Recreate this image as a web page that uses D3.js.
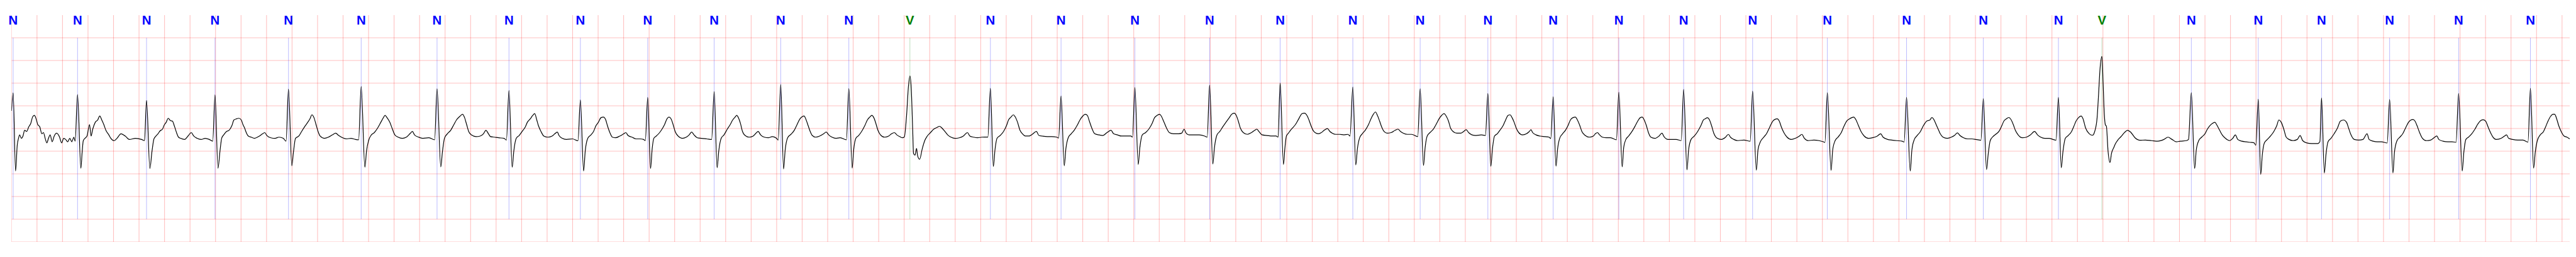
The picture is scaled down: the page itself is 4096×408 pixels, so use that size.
<!DOCTYPE html>
<html><head><meta charset="utf-8">
<script src="https://cdn.jsdelivr.net/npm/d3@7"></script>
<style>html,body{margin:0;padding:0;background:#fff;overflow:hidden}svg{display:block}</style>
</head><body>
<svg id="chart"></svg>
<script>
// Beat annotations (time in ms from strip start)
const beatMs = [13,518,1059,1596,2172,2742,3337,3901,4461,4989,5510,6032,6566,7045,7676,8230,8809,9395,9948,10518,11046,11577,12089,12604,13112,13653,14239,14860,15462,16051,16392,17093,17618,18114,18648,19189,19752];
const beatLabels = ["N","N","N","N","N","N","N","N","N","N","N","N","N","V","N","N","N","N","N","N","N","N","N","N","N","N","N","N","N","N","V","N","N","N","N","N","N"];
// ECG trace: [time ms, amplitude mV]
const ecg = [
[0,0.889],[13,1.285],[32,-0.437],[45,0.131],[55,0.283],[64,0.359],[77,0.283],[90,0.333],[103,0.460],[119,0.434],[135,0.535],[151,0.611],[167,0.763],[180,0.788],[193,0.712],[206,0.586],[222,0.535],[238,0.384],[251,0.409],[264,0.283],[277,0.182],[290,0.283],[303,0.359],[319,0.207],[335,0.333],[354,0.396],[377,0.308],[393,0.182],[409,0.283],[425,0.258],[441,0.207],[457,0.283],[473,0.207],[489,0.308],[499,0.220],
[518,1.247],[544,-0.379],[554,-0.020],[563,0.232],[576,0.283],[592,0.333],[612,0.586],[624,0.333],[637,0.485],[657,0.636],[676,0.687],[692,0.775],[708,0.687],[724,0.586],[740,0.460],[763,0.359],[779,0.283],[805,0.232],[827,0.283],[859,0.384],[892,0.333],[924,0.258],[972,0.283],[1020,0.258],[1043,0.232],
[1059,1.121],[1085,-0.386],[1101,-0.020],[1117,0.270],[1133,0.333],[1149,0.384],[1165,0.447],[1184,0.485],[1197,0.573],[1213,0.636],[1229,0.725],[1246,0.674],[1262,0.662],[1278,0.548],[1294,0.409],[1310,0.308],[1326,0.283],[1358,0.258],[1384,0.333],[1410,0.409],[1429,0.333],[1455,0.283],[1487,0.258],[1519,0.283],[1551,0.258],[1578,0.220],
[1596,1.242],[1619,-0.379],[1635,0.005],[1648,0.283],[1664,0.359],[1686,0.434],[1706,0.460],[1728,0.561],[1744,0.687],[1764,0.712],[1783,0.725],[1802,0.687],[1815,0.586],[1828,0.510],[1841,0.409],[1857,0.333],[1880,0.308],[1905,0.283],[1937,0.321],[1970,0.384],[1986,0.409],[2002,0.346],[2034,0.295],[2066,0.283],[2098,0.308],[2131,0.283],[2153,0.220],
[2172,1.369],[2198,-0.323],[2211,-0.020],[2227,0.283],[2253,0.333],[2275,0.434],[2298,0.535],[2317,0.611],[2340,0.712],[2356,0.801],[2372,0.737],[2388,0.586],[2404,0.434],[2420,0.333],[2452,0.283],[2485,0.308],[2517,0.359],[2542,0.396],[2565,0.346],[2597,0.295],[2629,0.270],[2662,0.283],[2697,0.258],[2722,0.250],
[2742,1.424],[2771,-0.356],[2784,0.005],[2800,0.232],[2822,0.359],[2845,0.409],[2871,0.510],[2896,0.636],[2916,0.737],[2929,0.788],[2945,0.737],[2967,0.636],[2987,0.485],[3006,0.359],[3032,0.308],[3064,0.283],[3096,0.308],[3128,0.396],[3144,0.434],[3160,0.359],[3193,0.308],[3225,0.283],[3273,0.295],[3318,0.250],
[3337,1.376],[3366,-0.348],[3379,-0.020],[3395,0.283],[3418,0.384],[3444,0.460],[3469,0.586],[3489,0.687],[3514,0.763],[3537,0.813],[3553,0.737],[3569,0.586],[3585,0.434],[3605,0.359],[3643,0.321],[3675,0.333],[3701,0.384],[3720,0.460],[3740,0.384],[3756,0.321],[3788,0.308],[3820,0.295],[3862,0.283],[3881,0.245],
[3901,1.338],[3926,-0.356],[3939,0.005],[3958,0.283],[3981,0.346],[4004,0.434],[4029,0.535],[4045,0.636],[4068,0.712],[4087,0.788],[4103,0.826],[4119,0.687],[4132,0.561],[4152,0.434],[4174,0.333],[4206,0.308],[4239,0.333],[4261,0.384],[4280,0.422],[4293,0.346],[4319,0.283],[4351,0.258],[4399,0.270],[4442,0.230],
[4461,1.131],[4486,-0.437],[4499,0.005],[4519,0.283],[4544,0.359],[4564,0.434],[4583,0.561],[4602,0.636],[4622,0.737],[4641,0.750],[4660,0.687],[4673,0.561],[4692,0.409],[4712,0.308],[4737,0.295],[4770,0.333],[4802,0.384],[4818,0.409],[4834,0.346],[4866,0.308],[4898,0.270],[4930,0.270],[4956,0.258],[4970,0.232],
[4989,1.184],[5011,-0.386],[5024,0.056],[5037,0.283],[5056,0.333],[5082,0.409],[5101,0.485],[5121,0.586],[5140,0.712],[5156,0.750],[5172,0.712],[5188,0.586],[5204,0.434],[5227,0.333],[5259,0.283],[5291,0.308],[5314,0.359],[5333,0.422],[5352,0.359],[5378,0.295],[5410,0.283],[5452,0.270],[5490,0.258],
[5510,1.313],[5533,-0.366],[5546,0.005],[5565,0.283],[5587,0.359],[5613,0.485],[5636,0.586],[5655,0.687],[5674,0.750],[5687,0.788],[5700,0.737],[5716,0.611],[5732,0.434],[5752,0.346],[5784,0.308],[5816,0.333],[5838,0.396],[5855,0.434],[5874,0.359],[5903,0.308],[5935,0.295],[5967,0.321],[5999,0.283],[6012,0.245],
[6032,1.470],[6054,-0.394],[6067,0.030],[6086,0.295],[6112,0.371],[6138,0.460],[6160,0.586],[6183,0.712],[6202,0.763],[6215,0.775],[6228,0.712],[6247,0.561],[6263,0.434],[6279,0.346],[6305,0.308],[6337,0.333],[6369,0.384],[6389,0.422],[6408,0.359],[6434,0.308],[6466,0.283],[6498,0.295],[6547,0.250],
[6566,1.381],[6592,-0.374],[6604,0.030],[6621,0.283],[6643,0.346],[6666,0.434],[6691,0.561],[6711,0.687],[6730,0.750],[6746,0.788],[6762,0.737],[6778,0.611],[6794,0.460],[6814,0.359],[6846,0.308],[6878,0.333],[6901,0.384],[6923,0.409],[6942,0.359],[6965,0.321],[6987,0.295],[7001,0.311],
[7019,0.80],[7034,1.45],[7045,1.659],[7055,1.40],[7067,0.44],[7073,-0.05],[7085,-0.09],[7097,0.06],[7105,-0.10],[7121,-0.18],[7142,0.056],[7161,0.232],[7181,0.333],[7206,0.409],[7232,0.485],[7258,0.523],[7277,0.548],[7296,0.510],[7319,0.434],[7341,0.359],[7367,0.308],[7399,0.283],[7432,0.295],[7464,0.333],[7496,0.409],[7515,0.333],[7544,0.308],[7576,0.295],[7609,0.308],[7656,0.310],
[7676,1.386],[7699,-0.341],[7712,0.030],[7728,0.283],[7753,0.346],[7779,0.434],[7802,0.561],[7818,0.687],[7837,0.750],[7856,0.801],[7869,0.763],[7889,0.636],[7908,0.460],[7927,0.384],[7953,0.333],[7979,0.333],[8004,0.371],[8037,0.434],[8056,0.346],[8082,0.333],[8123,0.321],[8156,0.321],[8197,0.308],[8211,0.290],
[8230,1.217],[8255,-0.323],[8268,0.056],[8288,0.308],[8310,0.384],[8333,0.460],[8355,0.561],[8378,0.687],[8397,0.763],[8420,0.813],[8436,0.788],[8452,0.662],[8471,0.510],[8494,0.384],[8526,0.359],[8558,0.346],[8590,0.409],[8622,0.460],[8642,0.384],[8671,0.359],[8703,0.333],[8735,0.333],[8777,0.333],[8790,0.310],
[8809,1.404],[8835,-0.293],[8848,0.081],[8867,0.359],[8893,0.409],[8918,0.485],[8944,0.611],[8963,0.737],[8983,0.788],[9002,0.813],[9018,0.763],[9034,0.662],[9057,0.510],[9079,0.409],[9111,0.384],[9153,0.384],[9176,0.396],[9195,0.485],[9208,0.409],[9234,0.359],[9266,0.359],[9314,0.359],[9356,0.333],[9376,0.310],
[9395,1.455],[9420,-0.285],[9433,0.081],[9453,0.359],[9475,0.434],[9498,0.535],[9523,0.636],[9549,0.737],[9568,0.813],[9588,0.838],[9604,0.788],[9620,0.662],[9636,0.510],[9659,0.409],[9691,0.371],[9723,0.409],[9749,0.460],[9765,0.485],[9781,0.434],[9807,0.359],[9845,0.346],[9884,0.333],[9916,0.333],[9932,0.308],
[9948,1.500],[9974,-0.293],[9985,0.060],[9997,0.333],[10013,0.396],[10029,0.460],[10045,0.510],[10068,0.586],[10094,0.712],[10119,0.826],[10139,0.838],[10158,0.788],[10174,0.687],[10190,0.561],[10206,0.460],[10222,0.409],[10248,0.384],[10271,0.409],[10293,0.460],[10319,0.497],[10338,0.434],[10357,0.396],[10383,0.371],[10415,0.371],[10448,0.359],[10480,0.371],[10496,0.333],
[10518,1.414],[10541,-0.306],[10554,0.056],[10570,0.283],[10592,0.384],[10615,0.460],[10641,0.586],[10660,0.712],[10679,0.813],[10695,0.864],[10711,0.788],[10728,0.662],[10744,0.535],[10763,0.434],[10786,0.396],[10818,0.409],[10850,0.460],[10872,0.485],[10892,0.434],[10914,0.396],[10946,0.371],[10979,0.371],[11027,0.320],
[11046,1.376],[11072,-0.316],[11085,0.081],[11101,0.333],[11123,0.409],[11149,0.485],[11175,0.611],[11194,0.712],[11214,0.788],[11233,0.826],[11252,0.763],[11268,0.662],[11284,0.510],[11304,0.434],[11333,0.396],[11365,0.396],[11387,0.434],[11407,0.472],[11426,0.409],[11452,0.359],[11484,0.346],[11526,0.359],[11558,0.346],
[11577,1.273],[11600,-0.336],[11613,0.056],[11629,0.333],[11651,0.384],[11671,0.460],[11696,0.561],[11716,0.687],[11735,0.788],[11751,0.801],[11767,0.737],[11783,0.636],[11799,0.510],[11819,0.409],[11848,0.359],[11880,0.384],[11902,0.434],[11915,0.472],[11928,0.409],[11954,0.359],[11986,0.333],[12025,0.321],[12057,0.308],[12070,0.280],
[12089,1.199],[12111,-0.331],[12124,0.056],[12140,0.283],[12163,0.384],[12185,0.460],[12205,0.561],[12224,0.687],[12243,0.737],[12263,0.750],[12279,0.687],[12295,0.586],[12314,0.434],[12340,0.346],[12372,0.308],[12404,0.333],[12420,0.384],[12436,0.409],[12453,0.359],[12475,0.308],[12507,0.295],[12539,0.295],[12585,0.250],
[12604,1.301],[12630,-0.348],[12642,0.081],[12659,0.258],[12681,0.333],[12707,0.434],[12733,0.561],[12752,0.662],[12771,0.737],[12787,0.750],[12803,0.687],[12820,0.561],[12836,0.409],[12855,0.308],[12887,0.283],[12919,0.333],[12942,0.396],[12958,0.321],[12990,0.258],[13022,0.258],[13054,0.258],[13093,0.232],
[13112,1.361],[13138,-0.412],[13151,0.030],[13170,0.258],[13196,0.333],[13222,0.434],[13247,0.561],[13267,0.687],[13280,0.712],[13299,0.737],[13315,0.687],[13331,0.561],[13350,0.384],[13376,0.283],[13408,0.258],[13441,0.308],[13463,0.371],[13479,0.308],[13505,0.258],[13537,0.232],[13585,0.245],[13634,0.220],
[13653,1.323],[13682,-0.419],[13695,0.030],[13714,0.207],[13740,0.308],[13762,0.384],[13788,0.535],[13811,0.662],[13827,0.699],[13846,0.712],[13862,0.662],[13878,0.535],[13898,0.409],[13923,0.308],[13956,0.258],[13988,0.283],[14020,0.333],[14039,0.371],[14059,0.283],[14091,0.232],[14133,0.245],[14174,0.232],[14207,0.207],[14220,0.190],
[14239,1.288],[14268,-0.424],[14281,0.030],[14300,0.232],[14322,0.308],[14348,0.409],[14367,0.535],[14390,0.662],[14413,0.712],[14445,0.750],[14464,0.687],[14483,0.561],[14503,0.434],[14528,0.333],[14561,0.283],[14593,0.295],[14631,0.333],[14657,0.384],[14676,0.308],[14712,0.258],[14744,0.245],[14783,0.232],[14825,0.220],[14841,0.200],
[14860,1.187],[14889,-0.437],[14902,0.030],[14921,0.258],[14940,0.333],[14969,0.434],[14992,0.561],[15018,0.662],[15043,0.687],[15059,0.742],[15076,0.687],[15092,0.586],[15108,0.485],[15124,0.384],[15146,0.308],[15179,0.283],[15211,0.308],[15236,0.346],[15259,0.404],[15278,0.346],[15307,0.295],[15339,0.270],[15372,0.270],[15404,0.258],[15443,0.240],
[15462,1.159],[15487,-0.407],[15500,-0.071],[15516,0.232],[15542,0.333],[15565,0.384],[15584,0.434],[15607,0.561],[15623,0.662],[15642,0.712],[15661,0.742],[15681,0.687],[15697,0.586],[15713,0.460],[15735,0.359],[15767,0.295],[15800,0.308],[15832,0.359],[15864,0.434],[15887,0.359],[15912,0.308],[15944,0.283],[15977,0.283],[16009,0.258],[16032,0.240],
[16051,1.184],[16073,-0.366],[16086,-0.020],[16105,0.283],[16128,0.346],[16154,0.434],[16170,0.535],[16189,0.662],[16208,0.737],[16228,0.775],[16244,0.712],[16264,0.510],[16294,0.380],[16318,0.350],[16336,0.440],
[16354,0.73],[16366,1.27],[16377,1.81],[16392,2.088],[16401,1.52],[16411,0.80],[16419,0.58],[16427,0.55],[16440,0.00],[16455,-0.25],[16467,-0.05],[16485,0.08],[16497,0.16],[16521,0.26],[16545,0.33],[16569,0.41],[16593,0.46],[16617,0.42],[16653,0.29],[16689,0.24],[16733,0.245],[16781,0.232],[16830,0.220],[16878,0.258],[16910,0.308],[16942,0.258],[16974,0.207],[17007,0.220],[17055,0.232],[17071,0.258],
[17093,1.288],[17119,-0.386],[17132,0.030],[17151,0.232],[17174,0.308],[17200,0.384],[17219,0.485],[17238,0.561],[17258,0.611],[17277,0.636],[17296,0.561],[17315,0.460],[17335,0.359],[17360,0.283],[17393,0.232],[17418,0.283],[17438,0.359],[17457,0.258],[17489,0.220],[17521,0.207],[17554,0.194],[17586,0.182],[17599,0.131],
[17618,1.146],[17637,-0.513],[17650,-0.071],[17666,0.182],[17689,0.258],[17714,0.333],[17740,0.434],[17763,0.561],[17779,0.687],[17798,0.636],[17818,0.485],[17837,0.308],[17859,0.258],[17891,0.232],[17924,0.258],[17946,0.346],[17966,0.232],[17998,0.182],[18036,0.169],[18085,0.169],[18101,0.207],
[18114,1.174],[18136,-0.482],[18149,-0.071],[18165,0.207],[18188,0.283],[18213,0.384],[18239,0.510],[18262,0.662],[18287,0.687],[18310,0.636],[18326,0.510],[18345,0.359],[18371,0.258],[18406,0.245],[18439,0.258],[18471,0.384],[18487,0.258],[18519,0.220],[18551,0.207],[18583,0.207],[18629,0.180],
[18648,1.141],[18674,-0.482],[18686,-0.020],[18706,0.232],[18728,0.308],[18751,0.384],[18777,0.535],[18796,0.636],[18815,0.687],[18831,0.699],[18847,0.662],[18863,0.561],[18883,0.409],[18905,0.283],[18937,0.232],[18970,0.245],[19002,0.308],[19018,0.333],[19034,0.258],[19066,0.220],[19105,0.207],[19137,0.207],[19169,0.194],
[19189,1.273],[19217,-0.437],[19230,-0.020],[19246,0.258],[19266,0.308],[19292,0.384],[19317,0.485],[19337,0.586],[19362,0.674],[19382,0.692],[19401,0.662],[19420,0.535],[19439,0.409],[19459,0.308],[19485,0.258],[19523,0.283],[19549,0.333],[19565,0.359],[19581,0.283],[19613,0.258],[19652,0.245],[19694,0.245],[19733,0.200],
[19752,1.386],[19777,-0.374],[19790,-0.020],[19806,0.232],[19829,0.359],[19855,0.434],[19871,0.535],[19890,0.662],[19909,0.763],[19929,0.813],[19942,0.813],[19958,0.712],[19974,0.561],[19993,0.434],[20016,0.333],[20038,0.308],[20060,0.270]
];
// Axes / grid definitions
const xDomainMs = [0, 20060];
const yDomainMv = [-2, 3];
const xGridStepMs = 200;
const yGridMv = [-2, -1.5, -1, -0.5, 0, 0.5, 1, 1.5, 2, 2.5];
const markerSpanMv = [2.5, -1.5];
const labelMv = 2.79;
const labelColors = {N: "#0000ff", V: "#008000"};

const W = 7522, H = 750;
const svg = d3.select("#chart")
  .attr("width", 4096).attr("height", 408)
  .attr("viewBox", `0 0 ${W} ${H}`)
  .attr("preserveAspectRatio", "xMinYMin meet");
svg.append("rect").attr("width", W).attr("height", H).attr("fill", "#fff");

const x = d3.scaleLinear().domain(xDomainMs).range([33.6, 7511]);
const y = d3.scaleLinear().domain(yDomainMv).range([705.8, 44]);

svg.append("defs").append("clipPath").attr("id", "plotclip")
  .append("rect").attr("x", x.range()[0]).attr("y", y.range()[1])
  .attr("width", x.range()[1] - x.range()[0]).attr("height", y.range()[0] - y.range()[1]);

const plot = svg.append("g").attr("clip-path", "url(#plotclip)");

const xGrid = d3.range(xDomainMs[0], xDomainMs[1] + 1, xGridStepMs);
plot.append("g").selectAll("line").data(xGrid).join("line")
  .attr("x1", d => x(d)).attr("x2", d => x(d))
  .attr("y1", y(yDomainMv[1])).attr("y2", y(yDomainMv[0]))
  .attr("stroke", "red").attr("stroke-opacity", 0.25).attr("stroke-width", 2);

plot.append("g").selectAll("line").data(yGridMv).join("line")
  .attr("x1", x(xDomainMs[0])).attr("x2", x(xDomainMs[1]))
  .attr("y1", d => y(d)).attr("y2", d => y(d))
  .attr("stroke", "red").attr("stroke-opacity", 0.25).attr("stroke-width", 2);

const beats = beatMs.map((t, i) => ({t, label: beatLabels[i]}));

plot.append("g").selectAll("line").data(beats).join("line")
  .attr("x1", d => x(d.t)).attr("x2", d => x(d.t))
  .attr("y1", y(markerSpanMv[0])).attr("y2", y(markerSpanMv[1]))
  .attr("stroke", d => labelColors[d.label]).attr("stroke-opacity", 0.5).attr("stroke-width", 1);

const line = d3.line().x(d => x(d[0])).y(d => y(d[1])).curve(d3.curveMonotoneX);
plot.append("path").datum(ecg).attr("d", line)
  .attr("fill", "none").attr("stroke", "#000").attr("stroke-width", 2.2)
  .attr("stroke-linejoin", "round");

svg.append("g").selectAll("text").data(beats).join("text")
  .attr("x", d => x(d.t)).attr("y", y(labelMv))
  .attr("text-anchor", "middle")
  .attr("font-family", "'Liberation Sans', Arial, sans-serif")
  .attr("font-weight", "bold").attr("font-size", 37.5)
  .attr("fill", d => labelColors[d.label])
  .text(d => d.label);
</script>
</body></html>
